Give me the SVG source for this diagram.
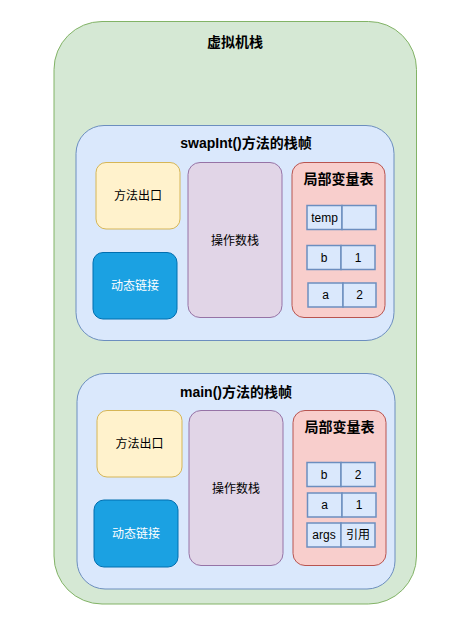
<svg xmlns="http://www.w3.org/2000/svg" width="468" height="619" viewBox="0 0 468 619">
<style>
text{font-family:"Liberation Sans","Noto Sans CJK SC",sans-serif;font-size:12px;fill:#000;text-anchor:middle;dominant-baseline:central}
.b{font-weight:bold;font-size:14px}
.w{fill:#fff}
.g{fill:#d5e8d4;stroke:#82b366}
.f{fill:#dae8fc;stroke:#6c8ebf}
.y{fill:#fff2cc;stroke:#d6b656}
.p{fill:#e1d5e7;stroke:#9673a6}
.r{fill:#f8cecc;stroke:#b85450}
.d{fill:#1ba1e2;stroke:#006eaf}
.c{fill:#dae8fc;stroke:#6c8ebf;stroke-width:1.5}
</style>
<g id="jvm-stack"><rect class="g" x="54" y="21.5" width="362.5" height="582.5" rx="48"/><text class="b" x="235" y="42">虚拟机栈</text></g>
<g id="swap-frame"><rect class="f" x="76" y="125.5" width="318" height="215" rx="28"/><text class="b" x="246" y="143">swapInt()方法的栈帧</text></g>
<g id="swap-exit"><rect class="y" x="96" y="162.5" width="84" height="66.5" rx="10"/><text x="138" y="196">方法出口</text></g>
<g id="swap-link"><rect class="d" x="93" y="252.5" width="84" height="66.5" rx="10"/><text class="w" x="135" y="286">动态链接</text></g>
<g id="swap-opstack"><rect class="p" x="188" y="162.5" width="94" height="155" rx="12"/><text x="235" y="241">操作数栈</text></g>
<g id="swap-locals"><rect class="r" x="292" y="162.5" width="93" height="155" rx="12"/><text class="b" x="338.5" y="179">局部变量表</text>
<rect class="c" x="307" y="205.5" width="35" height="24"/><text x="324.5" y="217.5">temp</text>
<rect class="c" x="342" y="205.5" width="34" height="24"/>
<rect class="c" x="307" y="245.5" width="34" height="24"/><text x="324" y="257.5">b</text>
<rect class="c" x="341" y="245.5" width="34" height="24"/><text x="358" y="257.5">1</text>
<rect class="c" x="308" y="283" width="35" height="24"/><text x="325.5" y="295">a</text>
<rect class="c" x="343" y="283" width="33" height="24"/><text x="359.5" y="295">2</text></g>
<g id="main-frame"><rect class="f" x="77" y="373.5" width="318" height="215.5" rx="28"/><text class="b" x="236" y="392">main()方法的栈帧</text></g>
<g id="main-exit"><rect class="y" x="97" y="410.5" width="85" height="66.5" rx="10"/><text x="139.5" y="444">方法出口</text></g>
<g id="main-link"><rect class="d" x="94" y="500" width="84" height="67" rx="10"/><text class="w" x="136" y="534">动态链接</text></g>
<g id="main-opstack"><rect class="p" x="189" y="410.5" width="94" height="155" rx="12"/><text x="236" y="489">操作数栈</text></g>
<g id="main-locals"><rect class="r" x="293" y="410.5" width="93" height="155" rx="12"/><text class="b" x="339.5" y="427">局部变量表</text>
<rect class="c" x="307" y="462.5" width="34" height="24"/><text x="324" y="474.5">b</text>
<rect class="c" x="341" y="462.5" width="34" height="24"/><text x="358" y="474.5">2</text>
<rect class="c" x="307.5" y="493" width="34.5" height="24"/><text x="324.5" y="505">a</text>
<rect class="c" x="342" y="493" width="34" height="24"/><text x="359" y="505">1</text>
<rect class="c" x="307" y="523" width="34" height="24"/><text x="324" y="535">args</text>
<rect class="c" x="341" y="523" width="34" height="24"/><text x="358" y="535">引用</text></g>
<g id="connectors"/>
</svg>
